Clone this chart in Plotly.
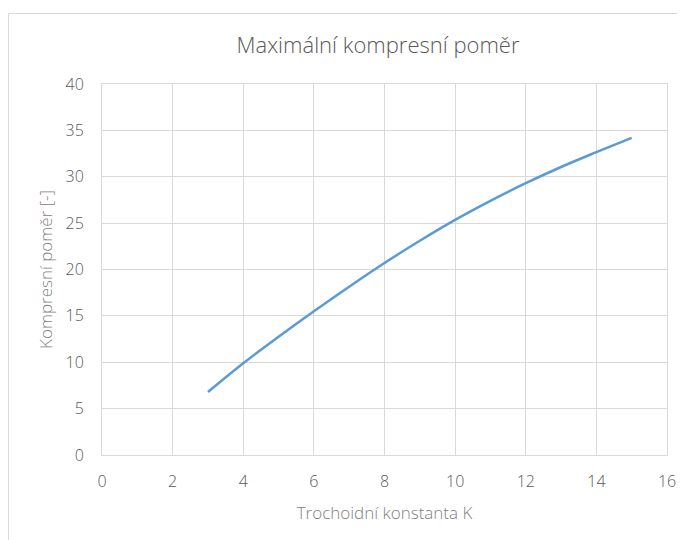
import plotly.graph_objects as go

k_values = [3, 4, 5, 6, 7, 8, 9, 10, 11, 12, 13, 14, 15]
compression_ratio = [6.8, 9.9, 12.75, 15.5, 18.15, 20.7, 23.1, 25.35, 27.4, 29.3, 31.05, 32.65, 34.2]
x_ticks = [0, 2, 4, 6, 8, 10, 12, 14, 16]
y_ticks = [0, 5, 10, 15, 20, 25, 30, 35, 40]

title_text = "Maximální kompresní poměr"
x_title = "Trochoidní konstanta K"
y_title = "Kompresní poměr [-]"

FONT = "Open Sans"
GRID = "#d9d9d9"
TXT = "#595959"

W, H = 685, 540
L, R, T, B = 94, 26, 76, 93
pw, ph = W - L - R, H - T - B

fig = go.Figure()
fig.add_trace(go.Scatter(
    x=k_values, y=compression_ratio, mode="lines",
    line=dict(color="#5B9BD5", width=2.5, shape="spline", smoothing=1.0),
    showlegend=False, hoverinfo="x+y",
))

fig.update_layout(
    width=W, height=H,
    margin=dict(l=L, r=R, t=T, b=B),
    paper_bgcolor="white", plot_bgcolor="white",
    font=dict(family=FONT, color=TXT),
    title=dict(text=title_text, x=370 / W, xanchor="center", y=1 - 37 / H, yanchor="middle",
               font=dict(size=22, color=TXT, family=FONT, weight=300)),
    xaxis=dict(range=[0, 16], tickvals=x_ticks, showgrid=True, gridcolor=GRID, gridwidth=1,
               showline=True, linecolor=GRID, mirror=True, zeroline=False,
               ticks="outside", ticklen=12, tickcolor="rgba(0,0,0,0)",
               tickfont=dict(size=16, color=TXT, weight=300),
               title=dict(text=x_title, font=dict(size=17, color="#7f7f7f", weight=300), standoff=15)),
    yaxis=dict(range=[0, 40], tickvals=y_ticks, showgrid=True, gridcolor=GRID, gridwidth=1,
               showline=True, linecolor=GRID, mirror=True, zeroline=False,
               ticks="outside", ticklen=14, tickcolor="rgba(0,0,0,0)",
               tickfont=dict(size=16, color=TXT, weight=300),
               title=dict(text=y_title, font=dict(size=17, color="#7f7f7f", weight=300), standoff=8)),
    shapes=[dict(type="rect", xref="paper", yref="paper",
                 x0=(0.5 - L) / pw, x1=(W + 20 - L) / pw,
                 y0=-(B + 20) / ph, y1=(H - B - 5.5) / ph,
                 line=dict(color="#d9d9d9", width=1), fillcolor="rgba(0,0,0,0)", layer="below")],
)

fig.write_html("out.html")
